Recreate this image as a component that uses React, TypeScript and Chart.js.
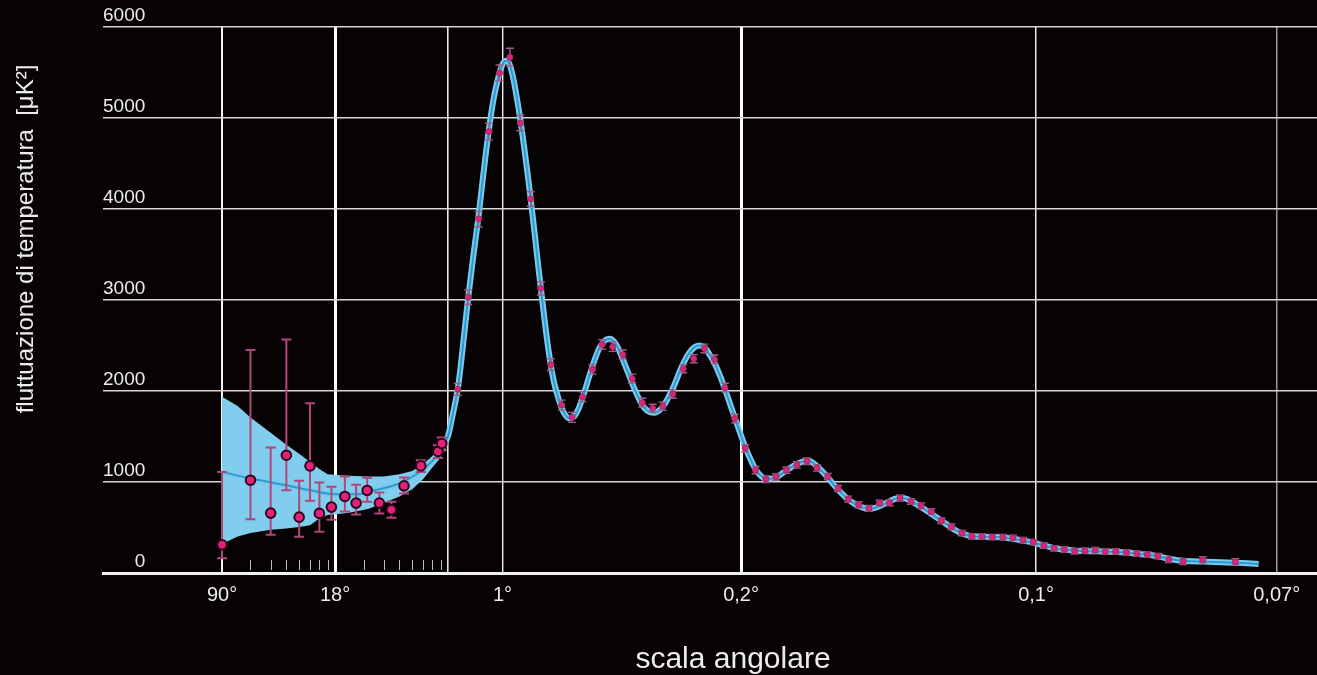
import React, { useEffect, useRef } from 'react';
import { Chart, registerables, Scale } from 'chart.js';

// ---------- DATA ----------
// multipole ℓ of each measured point
const dataEll = [2, 3, 4, 5, 6, 7, 8, 9.5, 11.5, 13.5, 15.8, 18.8, 22.3, 26.7, 33.9, 43.3, 45.7,
  79, 110, 141, 172, 203, 234, 265, 296, 326, 356, 388, 419, 450, 480, 509, 540, 570, 598, 628, 659, 689,
  719, 750, 781, 813, 843, 874, 903, 934, 965, 996, 1026, 1057, 1088, 1118, 1148, 1180, 1211, 1241, 1272,
  1303, 1334, 1364, 1395, 1428, 1458, 1488, 1518, 1548, 1579, 1609, 1639, 1670, 1701, 1731, 1761, 1792,
  1823, 1854, 1884, 1915, 1945, 1976, 2006, 2037, 2069, 2100, 2131, 2162, 2195, 2238, 2296, 2393];
// measured temperature fluctuation D_ℓ [μK²]
const dataD = [310, 1020, 658, 1294, 614, 1177, 655, 724, 841, 768, 907, 768, 694, 958, 1177, 1335, 1422,
  2018, 3031, 3890, 4852, 5492, 5667, 4943, 4110, 3127, 2289, 1846, 1711, 1934, 2238, 2512, 2486, 2399, 2135,
  1872, 1810, 1832, 1967, 2245, 2355, 2468, 2347, 2037, 1697, 1371, 1130, 1031, 1056, 1130, 1188, 1228, 1155,
  1061, 929, 812, 749, 710, 768, 771, 823, 786, 738, 676, 574, 508, 439, 402, 402, 395, 395, 387, 362, 340,
  300, 271, 260, 238, 245, 252, 234, 238, 227, 212, 201, 186, 146, 124, 146, 124];
// lower end of each error bar
const dataLow = [161, 592, 421, 910, 399, 793, 453, 585, 677, 644, 782, 655, 607, 874, 1111, 1265, 1350,
  1952, 2950, 3803, 4760, 5411, 5575, 4860, 4030, 3055, 2225, 1790, 1655, 1880, 2185, 2460, 2435, 2350, 2085,
  1825, 1765, 1787, 1920, 2200, 2310, 2420, 2300, 1990, 1650, 1330, 1090, 995, 1020, 1095, 1153, 1193, 1120,
  1027, 895, 780, 717, 678, 736, 739, 791, 755, 707, 645, 544, 478, 410, 373, 373, 366, 366, 358, 333, 311,
  271, 242, 231, 209, 216, 223, 205, 209, 198, 183, 172, 157, 115, 92, 112, 90];
// upper end of each error bar
const dataHigh = [1111, 2450, 1378, 2567, 1013, 1865, 995, 947, 1061, 969, 1046, 885, 782, 1050, 1240, 1405, 1490,
  2084, 3110, 3974, 4943, 5583, 5766, 5030, 4190, 3200, 2355, 1900, 1765, 1990, 2290, 2565, 2540, 2450, 2185,
  1920, 1855, 1877, 2015, 2290, 2400, 2515, 2395, 2085, 1745, 1410, 1170, 1067, 1092, 1165, 1223, 1263, 1190,
  1095, 963, 845, 781, 742, 800, 803, 855, 817, 769, 707, 604, 538, 468, 431, 431, 424, 424, 416, 391, 369,
  329, 300, 289, 267, 274, 281, 263, 267, 256, 241, 230, 215, 177, 156, 180, 158];

// best-fit model curve
const modelEll = [2, 3, 5, 7, 10, 14, 18, 22, 27, 33, 40, 45, 50, 65, 80, 95, 110, 125, 140, 155, 170, 185, 200,
  212, 222, 232, 245, 260, 275, 290, 305, 320, 335, 350, 365, 380, 395, 410, 425, 440, 455, 470, 485, 500, 515,
  530, 545, 560, 575, 590, 605, 620, 635, 650, 665, 680, 695, 710, 725, 740, 755, 770, 785, 800, 815, 830, 845,
  860, 875, 890, 905, 920, 935, 950, 965, 980, 995, 1010, 1030, 1050, 1070, 1090, 1110, 1125, 1140, 1160, 1180,
  1200, 1220, 1240, 1260, 1280, 1300, 1320, 1340, 1360, 1380, 1400, 1420, 1440, 1460, 1480, 1500, 1520, 1540,
  1560, 1580, 1600, 1620, 1650, 1680, 1710, 1740, 1770, 1800, 1830, 1860, 1890, 1920, 1950, 1980, 2010, 2040,
  2070, 2100, 2130, 2160, 2190, 2220, 2260, 2300, 2350, 2400, 2462];
const modelD = [1111, 1039, 965, 910, 866, 866, 914, 951, 1013, 1104, 1232, 1342, 1506, 1760, 2050, 2520, 3030,
  3480, 3900, 4380, 4830, 5200, 5450, 5590, 5630, 5600, 5420, 5100, 4720, 4290, 3820, 3320, 2850, 2420, 2100,
  1900, 1760, 1700, 1720, 1820, 1980, 2160, 2330, 2470, 2550, 2575, 2540, 2440, 2300, 2160, 2020, 1900, 1810,
  1770, 1762, 1790, 1860, 1960, 2080, 2220, 2340, 2430, 2485, 2500, 2470, 2390, 2290, 2160, 2010, 1850, 1690,
  1530, 1380, 1250, 1140, 1070, 1035, 1035, 1060, 1110, 1160, 1200, 1228, 1230, 1200, 1130, 1050, 960, 880, 810,
  760, 725, 705, 715, 745, 780, 815, 828, 805, 765, 720, 670, 620, 570, 520, 470, 435, 410, 400, 397, 395, 388,
  370, 350, 325, 295, 270, 255, 245, 240, 238, 235, 232, 225, 212, 200, 185, 160, 140, 128, 125, 118, 112, 99];

// cosmic-variance band at large angular scales
const bandEll = [2, 2.5, 3, 4, 5, 6, 7, 8, 9, 12, 16, 20, 25, 30, 35, 40, 45, 50];
const bandUpper = [1938, 1835, 1708, 1541, 1409, 1311, 1221, 1142, 1086, 1068, 1060, 1060, 1086, 1122, 1195, 1287, 1396, 1561];
const bandLower = [318, 400, 439, 475, 490, 505, 526, 600, 636, 658, 702, 768, 841, 921, 1031, 1159, 1269, 1451];

// axis ticks
const xTickValues = [2, 10, 50, 212, 922, 1800, 2516];
const xTickLabels = ['90°', '18°', '', '1°', '0,2°', '0,1°', '0,07°'];
const xMinorTicks = [3, 4, 5, 6, 7, 8, 9, 15, 20, 25, 30, 35, 40, 45];
const yTickStep = 1000;
const yMin = 0;
const yMax = 6000;
const xMin = 0.3673;
const xMax = 2636;

const X_TITLE = 'scala angolare';
const Y_TITLE = 'fluttuazione di temperatura  [μK²]';

// ---------- STYLE ----------
const FONT = "'Liberation Sans', Arial, sans-serif";
const BG = '#070304';
const TEXT = '#ececec';
const xGridStyle: Record<number, { w: number; c: string }> = {
  2: { w: 2, c: '#f2f2f2' },
  10: { w: 3, c: '#ffffff' },
  50: { w: 1.6, c: '#e6e6e6' },
  212: { w: 1.4, c: '#eeeeee' },
  922: { w: 3, c: '#ffffff' },
  1800: { w: 1.5, c: '#e6e6e6' },
  2516: { w: 1.5, c: '#9a9a9a' },
};

// ---------- hybrid log/linear multipole scale ----------
const BREAK_ELL = 50;
const LIN_DECADES_PER_ELL = 0.336 / 161.7;
const toUnits = (ell: number) =>
  ell <= BREAK_ELL ? Math.log10(ell) : Math.log10(BREAK_ELL) + (ell - BREAK_ELL) * LIN_DECADES_PER_ELL;
const fromUnits = (u: number) => {
  const ub = Math.log10(BREAK_ELL);
  return u <= ub ? Math.pow(10, u) : BREAK_ELL + (u - ub) / LIN_DECADES_PER_ELL;
};

class HybridEllScale extends Scale {
  static id = 'hybridEll';
  static defaults = {};
  _uMin = 0;
  _uMax = 1;
  determineDataLimits() {
    this.min = (this.options as any).min;
    this.max = (this.options as any).max;
  }
  buildTicks() {
    return xTickValues.map((v) => ({ value: v }));
  }
  configure() {
    super.configure();
    this._uMin = toUnits(this.min);
    this._uMax = toUnits(this.max);
  }
  _calculatePadding() {
    this.paddingLeft = 0;
    this.paddingRight = 0;
    this.paddingTop = 0;
    this.paddingBottom = 0;
  }
  getLabelForValue(v: number) {
    return String(v);
  }
  getPixelForValue(v: number) {
    return this.getPixelForDecimal((toUnits(v) - this._uMin) / (this._uMax - this._uMin));
  }
  getValueForPixel(p: number) {
    return fromUnits(this._uMin + this.getDecimalForPixel(p) * (this._uMax - this._uMin));
  }
  getPixelForTick(i: number) {
    return this.getPixelForValue(this.ticks[i].value);
  }
}

Chart.register(...registerables, HybridEllScale as any);

const errorBarsPlugin = {
  id: 'errorBars',
  beforeDatasetDraw(chart: any, args: any) {
    if (args.index !== 0) return;
    const { ctx, scales } = chart;
    const x = scales.x;
    const y = scales.y;
    ctx.save();
    for (let i = 0; i < dataEll.length; i++) {
      const px = x.getPixelForValue(dataEll[i]);
      const yl = y.getPixelForValue(dataLow[i]);
      const yh = y.getPixelForValue(dataHigh[i]);
      const big = dataEll[i] < 60;
      const cap = big ? 5 : 4;
      ctx.strokeStyle = big ? '#b0477a' : '#a35c88';
      ctx.lineWidth = big ? 2 : 1.4;
      ctx.beginPath();
      ctx.moveTo(px, yl);
      ctx.lineTo(px, yh);
      ctx.moveTo(px - cap, yl);
      ctx.lineTo(px + cap, yl);
      ctx.moveTo(px - cap, yh);
      ctx.lineTo(px + cap, yh);
      ctx.stroke();
    }
    ctx.restore();
  },
};

const minorTicksPlugin = {
  id: 'minorTicks',
  beforeDatasetsDraw(chart: any) {
    const { ctx, chartArea, scales } = chart;
    ctx.save();
    ctx.strokeStyle = '#bdbdbd';
    ctx.lineWidth = 1;
    for (const v of xMinorTicks) {
      const px = Math.round(scales.x.getPixelForValue(v)) + 0.5;
      ctx.beginPath();
      ctx.moveTo(px, chartArea.bottom - 13);
      ctx.lineTo(px, chartArea.bottom - 3);
      ctx.stroke();
    }
    ctx.restore();
  },
};

const axisTitlesPlugin = {
  id: 'axisTitles',
  afterDraw(chart: any) {
    const { ctx, chartArea } = chart;
    ctx.save();
    ctx.fillStyle = TEXT;
    ctx.textAlign = 'center';
    ctx.textBaseline = 'alphabetic';
    ctx.font = `30px ${FONT}`;
    ctx.fillText(X_TITLE, chartArea.left + 630, chartArea.bottom + 95);
    ctx.translate(33, chartArea.top + 212);
    ctx.rotate(-Math.PI / 2);
    ctx.font = `24px ${FONT}`;
    ctx.fillText(Y_TITLE, 0, 0);
    ctx.restore();
  },
};

export default function App() {
  const ref = useRef<HTMLCanvasElement | null>(null);
  useEffect(() => {
    if (!ref.current) return;
    const pts = dataEll.map((l, i) => ({ x: l, y: dataD[i] }));
    const model = modelEll.map((l, i) => ({ x: l, y: modelD[i] }));
    const up = bandEll.map((l, i) => ({ x: l, y: bandUpper[i] }));
    const lo = bandEll.map((l, i) => ({ x: l, y: bandLower[i] }));
    const isBig = (c: any) => c.raw && c.raw.x < 60;
    const chart = new Chart(ref.current, {
      type: 'line',
      data: {
        datasets: [
          {
            data: pts,
            showLine: false,
            pointRadius: (c: any) => (isBig(c) ? 4.8 : 3),
            pointBackgroundColor: '#e4217a',
            pointBorderColor: (c: any) => (isBig(c) ? '#2a0716' : '#8f3560'),
            pointBorderWidth: (c: any) => (isBig(c) ? 2 : 1),
          },
          {
            data: model,
            borderColor: '#2a9ad2',
            borderWidth: 2,
            pointRadius: 0,
            cubicInterpolationMode: 'monotone',
            fill: false,
          },
          {
            data: model,
            borderColor: '#7ccaeb',
            borderWidth: 6,
            pointRadius: 0,
            cubicInterpolationMode: 'monotone',
            fill: false,
          },
          {
            data: up,
            borderWidth: 0,
            borderColor: 'rgba(0,0,0,0)',
            backgroundColor: '#80cdee',
            pointRadius: 0,
            tension: 0,
            fill: '+1',
          },
          {
            data: lo,
            borderWidth: 0,
            borderColor: 'rgba(0,0,0,0)',
            pointRadius: 0,
            tension: 0,
            fill: false,
          },
        ],
      } as any,
      options: {
        animation: false,
        responsive: true,
        maintainAspectRatio: false,
        layout: { autoPadding: false, padding: { left: 103, top: 27, right: 0, bottom: 58 } },
        plugins: {
          legend: { display: false },
          tooltip: { enabled: false },
        },
        scales: {
          x: {
            type: 'hybridEll',
            min: xMin,
            max: xMax,
            position: 'bottom',
            grid: {
              color: (c: any) => (xGridStyle[c.tick?.value]?.c ?? '#e6e6e6'),
              lineWidth: (c: any) => (xGridStyle[c.tick?.value]?.w ?? 1.5),
              drawTicks: false,
            },
            border: { display: true, color: '#f2f2f2', width: 3 },
            ticks: {
              autoSkip: false,
              maxRotation: 0,
              padding: 10,
              color: TEXT,
              font: { family: FONT, size: 20 },
              callback: (_v: any, i: number) => xTickLabels[i],
            },
          },
          y: {
            type: 'linear',
            min: yMin,
            max: yMax,
            position: 'left',
            grid: {
              color: (c: any) => (c.tick?.value === 0 ? 'rgba(0,0,0,0)' : '#d6d6d6'),
              lineWidth: 1.6,
              drawTicks: false,
            },
            border: { display: false },
            ticks: {
              stepSize: yTickStep,
              mirror: true,
              crossAlign: 'far',
              padding: 0,
              labelOffset: -11,
              color: TEXT,
              font: { family: FONT, size: 19 },
              callback: (v: any) => String(v),
            },
          },
        } as any,
      },
      plugins: [errorBarsPlugin, minorTicksPlugin, axisTitlesPlugin],
    } as any);
    return () => chart.destroy();
  }, []);
  return (
    <div style={{ position: 'fixed', left: 0, top: 0, width: '100vw', height: '100vh', background: BG }}>
      <canvas ref={ref} />
    </div>
  );
}
